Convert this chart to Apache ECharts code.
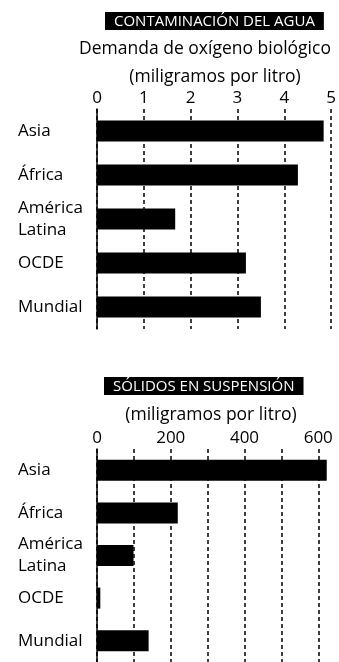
<!DOCTYPE html>
<html>
<head>
<meta charset="utf-8">
<script src="https://cdn.jsdelivr.net/npm/echarts@6/dist/echarts.min.js"></script>
<style>
  html, body { margin: 0; padding: 0; background: #fff; }
  #chart { width: 339px; height: 662px; }
</style>
</head>
<body>
<div id="chart"></div>
<script>
// Regions shown in both panels (top to bottom)
const regions = ['Asia', 'África', 'América\nLatina', 'OCDE', 'Mundial'];

// Biological oxygen demand, mg per litre
const oxygenDemand = [4.84, 4.29, 1.67, 3.18, 3.50];

// Suspended solids, mg per litre
const suspendedSolids = [623, 219, 99, 9, 140];

const FONT = '"Open Sans", "Noto Sans", sans-serif';

const chart = echarts.init(document.getElementById('chart'), null, { renderer: 'canvas' });

function headerBox(text, left, top) {
  return {
    text: text,
    left: left,
    top: top,
    padding: [2, 9, 1, 9],
    backgroundColor: '#000',
    textStyle: { color: '#fff', fontFamily: FONT, fontSize: 15, fontWeight: 'normal' }
  };
}

function caption(text, x, top) {
  return {
    text: text,
    left: x,
    top: top,
    textAlign: 'center',
    padding: 0,
    textStyle: { color: '#000', fontFamily: FONT, fontSize: 17.5, fontWeight: 'normal' }
  };
}

const dashed = { color: '#000', width: 1.5, type: [4, 3] };

function categoryAxis(gridIndex) {
  return {
    type: 'category',
    gridIndex: gridIndex,
    data: regions,
    inverse: true,
    axisLine: { show: true, lineStyle: { color: '#000', width: 1.5 } },
    axisTick: { show: false },
    axisLabel: {
      color: '#000',
      fontFamily: FONT,
      fontSize: 17,
      align: 'left',
      margin: 79,
      lineHeight: 22
    },
    splitLine: { show: false }
  };
}

chart.setOption({
  animation: false,
  title: [
    headerBox('CONTAMINACIÓN DEL AGUA', 105, 12),
    caption('Demanda de oxígeno biológico', 205, 40),
    caption('(miligramos por litro)', 215, 68),
    headerBox('SÓLIDOS EN SUSPENSIÓN', 104, 377),
    caption('(miligramos por litro)', 211, 406)
  ],
  grid: [
    { left: 97, width: 236, top: 109, height: 220 },
    { left: 97, width: 236, top: 449, height: 220 }
  ],
  xAxis: [
    {
      type: 'value',
      gridIndex: 0,
      position: 'top',
      min: 0,
      max: 5,
      interval: 1,
      axisLine: { show: false },
      axisTick: { show: false },
      axisLabel: { color: '#000', fontFamily: FONT, fontSize: 17, margin: 2 },
      splitLine: { show: true, lineStyle: dashed }
    },
    {
      type: 'value',
      gridIndex: 1,
      position: 'top',
      min: 0,
      max: 640,
      interval: 100,
      axisLine: { show: false },
      axisTick: { show: false },
      axisLabel: {
        color: '#000',
        fontFamily: FONT,
        fontSize: 17,
        margin: 2,
        showMaxLabel: false,
        formatter: v => (v % 200 === 0 ? String(v) : '')
      },
      splitLine: { show: true, showMaxLine: false, lineStyle: dashed }
    }
  ],
  yAxis: [categoryAxis(0), categoryAxis(1)],
  series: [
    {
      type: 'bar',
      xAxisIndex: 0,
      yAxisIndex: 0,
      data: oxygenDemand,
      barWidth: 21,
      itemStyle: { color: '#000' },
      z: 3
    },
    {
      type: 'bar',
      xAxisIndex: 1,
      yAxisIndex: 1,
      data: suspendedSolids,
      barWidth: 21,
      itemStyle: { color: '#000' },
      z: 3
    }
  ]
});
</script>
</body>
</html>
